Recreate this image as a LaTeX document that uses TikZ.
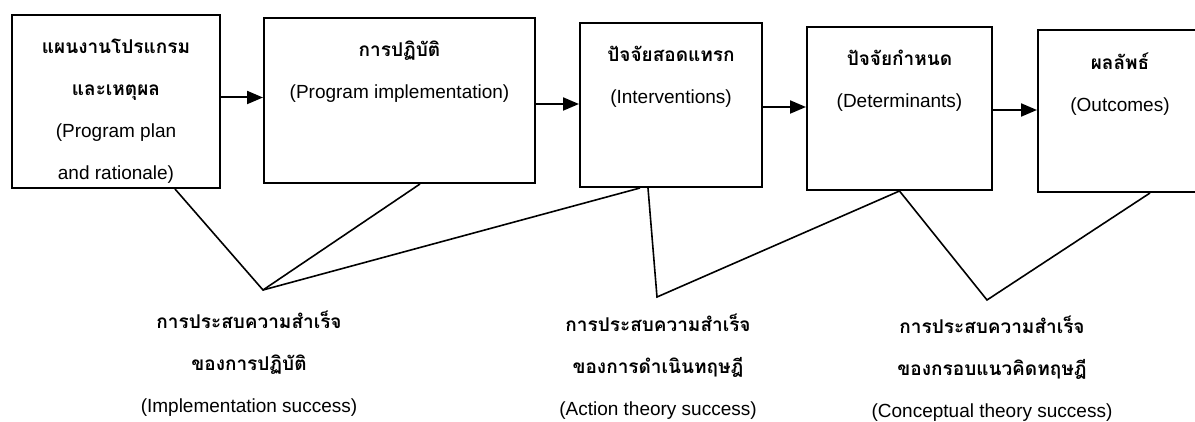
\documentclass[tikz,border=0pt]{standalone}
\usepackage{fontspec}
\setmainfont{Liberation Sans}
\newfontfamily\thaifont[Script=Thai]{Loma}
\usetikzlibrary{arrows.meta}
\usetikzlibrary{positioning}

\newcommand{\thaitext}[1]{{\thaifont\bfseries #1}}

\tikzset{
  box/.style={draw, line width=2pt, inner sep=0pt},
  boxtext/.style={align=center, font=\fontsize{19}{42}\selectfont, inner sep=0pt, anchor=north},
  flow/.style={line width=2pt, -{Triangle[length=16pt,width=13pt]}},
  link/.style={line width=1.6pt},
}

\begin{document}
\begin{tikzpicture}[x=1pt,y=-1pt]
		\useasboundingbox (0,0) rectangle (1195,422);
		% the five stages
		\node[box, minimum width=208pt, minimum height=173pt] (plan) at (116,101.5) {};
		\node[box, minimum width=271pt, minimum height=165pt] (impl) at (399.5,100.5) {};
		\node[box, minimum width=182pt, minimum height=164pt] (interv) at (671,105) {};
		\node[box, minimum width=185pt, minimum height=163pt] (determ) at (899.5,108.5) {};
		\node[box, minimum width=164pt, minimum height=162pt] (outcome) at (1120,111) {};
		\node[boxtext, below=25pt of plan.north] (plantext) {\thaitext{แผนงานโปรแกรม}\\\thaitext{และเหตุผล}\\(Program plan\\and rationale)};
		\node[boxtext, below=24pt of impl.north] (impltext) {\thaitext{การปฏิบัติ}\\(Program implementation)};
		\node[boxtext, below=24pt of interv.north] (intervtext) {\thaitext{ปัจจัยสอดแทรก}\\(Interventions)};
		\node[boxtext, below=24pt of determ.north] (determtext) {\thaitext{ปัจจัยกำหนด}\\(Determinants)};
		\node[boxtext, below=24pt of outcome.north] (outcometext) {\thaitext{ผลลัพธ์}\\(Outcomes)};
		\draw[flow] ([yshift=4pt]plan.east) -- ([yshift=4pt]plan.east -| impl.west);
		\draw[flow] ([yshift=-3.5pt]impl.east) -- ([yshift=-3.5pt]impl.east -| interv.west);
		\draw[flow] ([yshift=-2pt]interv.east) -- ([yshift=-2pt]interv.east -| determ.west);
		\draw[flow] ([yshift=-1.5pt]determ.east) -- ([yshift=-1.5pt]determ.east -| outcome.west);
		% success criteria
		\coordinate (apexA) at (263,290);
		\coordinate (apexB) at (657,297);
		\coordinate (apexC) at (987,300);
		\draw[link] ([xshift=59pt]plan.south) -- (apexA) -- ([xshift=20.5pt]impl.south);
		\draw[link] (apexA) -- ([xshift=-31pt]interv.south);
		\draw[link] ([xshift=-23pt]interv.south) -- (apexB) -- (determ.south);
		\draw[link] (determ.south) -- (apexC) -- ([xshift=30pt]outcome.south);
		\node[boxtext] (implsucc) at (249,311) {\thaitext{การประสบความสำเร็จ}\\\thaitext{ของการปฏิบัติ}\\(Implementation success)};
		\node[boxtext] (actsucc) at (658,314) {\thaitext{การประสบความสำเร็จ}\\\thaitext{ของการดำเนินทฤษฎี}\\(Action theory success)};
		\node[boxtext] (conceptsucc) at (992,316) {\thaitext{การประสบความสำเร็จ}\\\thaitext{ของกรอบแนวคิดทฤษฎี}\\(Conceptual theory success)};
	\end{tikzpicture}
\end{document}
